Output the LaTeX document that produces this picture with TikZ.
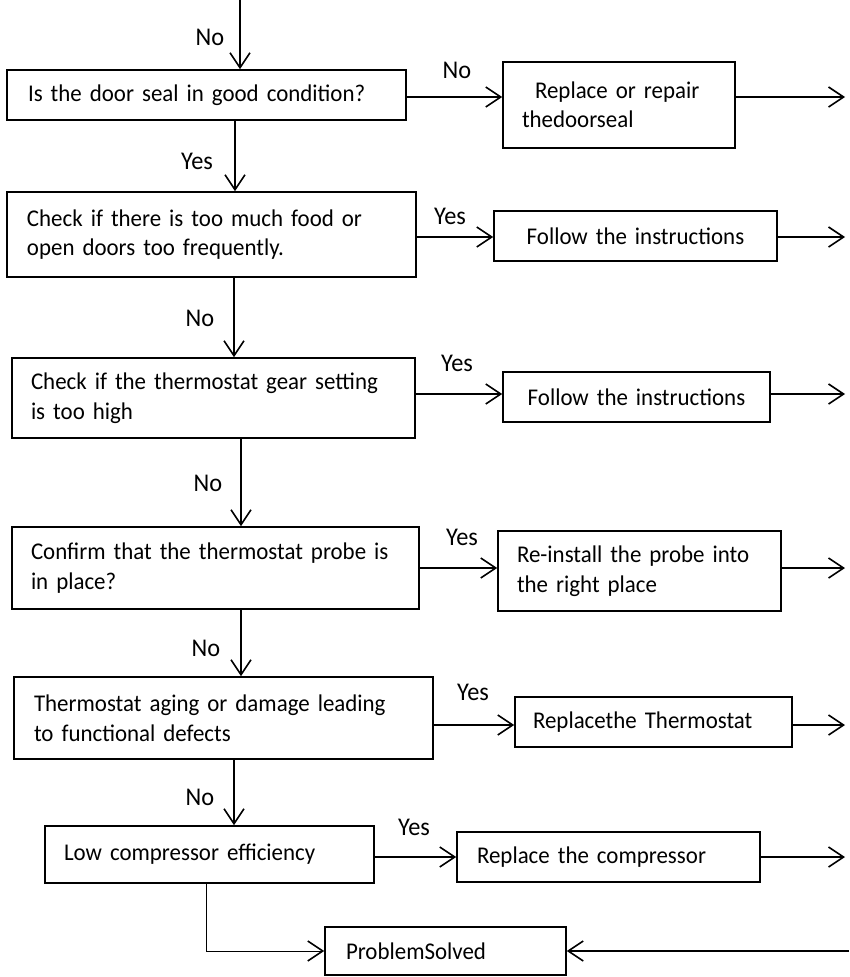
\documentclass[tikz,border=0pt]{standalone}
\usepackage{fontspec}
\setmainfont{Carlito}[FakeStretch=0.955]
\usetikzlibrary{arrows.meta,positioning}
\newcommand{\chartfont}{\fontsize{24}{29.5}\selectfont}
\newcommand{\labelfont}{\fontsize{25.5}{29}\selectfont}
\tikzset{
  box/.style={draw, line width=1.6pt, align=left, inner ysep=0pt, font=\chartfont},
  flow/.style={->, line width=1.6pt},
  lbl/.style={font=\labelfont, inner sep=0pt},
}

\begin{document}
\begin{tikzpicture}[x=1pt, y=-1pt,
  >={Straight Barb[length=15pt,width=20pt,line width=1.6pt]}]
  \useasboundingbox (0,0) rectangle (849,977);

  % questions, left column
  \node[box, text width=357pt, inner xsep=21pt, minimum height=50pt] (q1) at (206.5,95) {Is the door seal in good condition?};
  \node[box, text width=369pt, inner xsep=20pt, minimum height=85pt] (q2) at (211.5,234.5) {Check if there is too much food or\\open doors too frequently.};
  \node[box, text width=365pt, inner xsep=19pt, minimum height=80pt] (q3) at (213.5,398) {Check if the thermostat gear setting\\is too high};
  \node[box, text width=369pt, inner xsep=19pt, minimum height=82pt] (q4) at (215.5,568) {Confirm that the thermostat probe is\\in place?};
  \node[box, text width=379pt, inner xsep=20pt, minimum height=82pt] (q5) at (223.5,718) {Thermostat aging or damage leading\\to functional defects};
  \node[box, text width=291pt, inner xsep=19pt, minimum height=57pt] (q6) at (209.5,854.5) {Low compressor efficiency};

  % actions, right column
  \node[box, text width=194pt, inner xsep=19pt, minimum height=86pt] (r1) at (619,105) {\hspace*{13pt}Replace or repair\\thedoorseal};
  \node[box, text width=255pt, inner xsep=14pt, minimum height=50pt, align=center] (r2) at (635.5,236) {Follow the instructions};
  \node[box, text width=239pt, inner xsep=14pt, minimum height=50pt, align=center] (r3) at (636.5,397) {Follow the instructions};
  \node[box, text width=245pt, inner xsep=19pt, minimum height=80pt] (r4) at (639.5,571) {Re-install the probe into\\the right place};
  \node[box, text width=241pt, inner xsep=18pt, minimum height=50pt] (r5) at (653.5,722) {Replacethe Thermostat};
  \node[box, text width=263pt, inner xsep=20pt, minimum height=50pt] (r6) at (608.5,857) {Replace the compressor};
  \node[box, text width=199pt, inner xsep=21pt, minimum height=48pt] (ps) at (445.5,951) {ProblemSolved};

  % free ends
  \coordinate (start) at (240,0);
  \coordinate (o1) at (845,97);
  \coordinate (o2) at (845,237);
  \coordinate (o3) at (845,394);
  \coordinate (o4) at (845,568);
  \coordinate (o5) at (845,725);
  \coordinate (o6) at (845,857);
  \coordinate (back) at (849,951);

  % down the No/Yes chain
  \draw[flow] (start) -- (start |- q1.north);
  \draw[flow] ([xshift=28.5pt]q1.south) -- ([xshift=28.5pt]q1.south |- q2.north);
  \draw[flow] ([xshift=22.5pt]q2.south) -- ([xshift=22.5pt]q2.south |- q3.north);
  \draw[flow] ([xshift=27.5pt]q3.south) -- ([xshift=27.5pt]q3.south |- q4.north);
  \draw[flow] ([xshift=25.5pt]q4.south) -- ([xshift=25.5pt]q4.south |- q5.north);
  \draw[flow] ([xshift=10.5pt]q5.south) -- ([xshift=10.5pt]q5.south |- q6.north);
  \draw[->, line width=0.8pt] ([xshift=-3.5pt]q6.south) |- (ps.west);

  % across to the actions
  \draw[flow] (q1.east |- o1) -- (r1.west |- o1);
  \draw[flow] (q2.east |- o2) -- (r2.west |- o2);
  \draw[flow] (q3.east |- o3) -- (r3.west |- o3);
  \draw[flow] (q4.east |- o4) -- (r4.west |- o4);
  \draw[flow] (q5.east |- o5) -- (r5.west |- o5);
  \draw[flow] (q6.east |- o6) -- (r6.west |- o6);

  % out of the actions
  \draw[flow] (r1.east |- o1) -- (o1);
  \draw[flow] (r2.east |- o2) -- (o2);
  \draw[flow] (r3.east |- o3) -- (o3);
  \draw[flow] (r4.east |- o4) -- (o4);
  \draw[flow] (r5.east |- o5) -- (o5);
  \draw[flow] (r6.east |- o6) -- (o6);
  \draw[flow] (back) -- (ps.east);

  % labels
  \node[lbl] (n0) at (210,37) {No};
  \node[lbl] (y1) at (197,161) {Yes};
  \node[lbl] (n1) at (457,70) {No};
  \node[lbl] (n2) at (200,318) {No};
  \node[lbl] (y2) at (450,216) {Yes};
  \node[lbl] (y3) at (457,363) {Yes};
  \node[lbl] (n3) at (208,483) {No};
  \node[lbl] (y4) at (462,537) {Yes};
  \node[lbl] (n4) at (206,648) {No};
  \node[lbl] (y5) at (473,692) {Yes};
  \node[lbl] (n5) at (200,797) {No};
  \node[lbl] (y6) at (414,827) {Yes};
\end{tikzpicture}
\end{document}
